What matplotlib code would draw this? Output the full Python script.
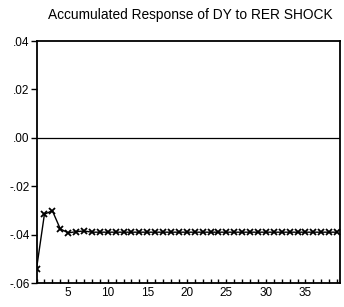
import matplotlib
matplotlib.use("Agg")
import matplotlib.pyplot as plt
import numpy as np

plt.rcParams['font.family'] = ['Liberation Sans', 'DejaVu Sans']

periods = list(range(1, 40))
response = [-0.0542, -0.0316, -0.0301, -0.0376, -0.0393, -0.0388, -0.0385] + [-0.0390] * 32
yticks = [0.04, 0.02, 0.00, -0.02, -0.04, -0.06]
ylabels = ['.04', '.02', '.00', '-.02', '-.04', '-.06']
xticks = [5, 10, 15, 20, 25, 30, 35]

fig = plt.figure(figsize=(3.44, 3.07), dpi=100)
ax = fig.add_axes([36.5 / 344, 1 - 283 / 307, (339.5 - 36.5) / 344, (283 - 41) / 307])

ax.axhline(0, color='black', lw=0.9)
ax.plot(periods, response, color='black', lw=1.0, marker='x', ms=3.8, mew=1.3)

ax.set_xlim(1, 39.3)
ax.set_ylim(-0.06, 0.04)
ax.set_yticks(yticks)
ax.set_yticklabels(ylabels)
ax.set_xticks(xticks)
ax.set_xticks(periods, minor=True)
ax.tick_params(axis='y', direction='out', length=4, width=1, labelsize=8.5, pad=1)
ax.tick_params(axis='x', which='both', direction='in', length=3, width=1, labelsize=8.5, pad=3)
ax.tick_params(top=False, right=False)
for s in ax.spines.values():
    s.set_linewidth(1.3)

fig.text(190 / 344, 1 - 15 / 307, 'Accumulated Response of DY to RER SHOCK',
         ha='center', va='center', fontsize=9.9)

fig.savefig('out.png', dpi=100)
